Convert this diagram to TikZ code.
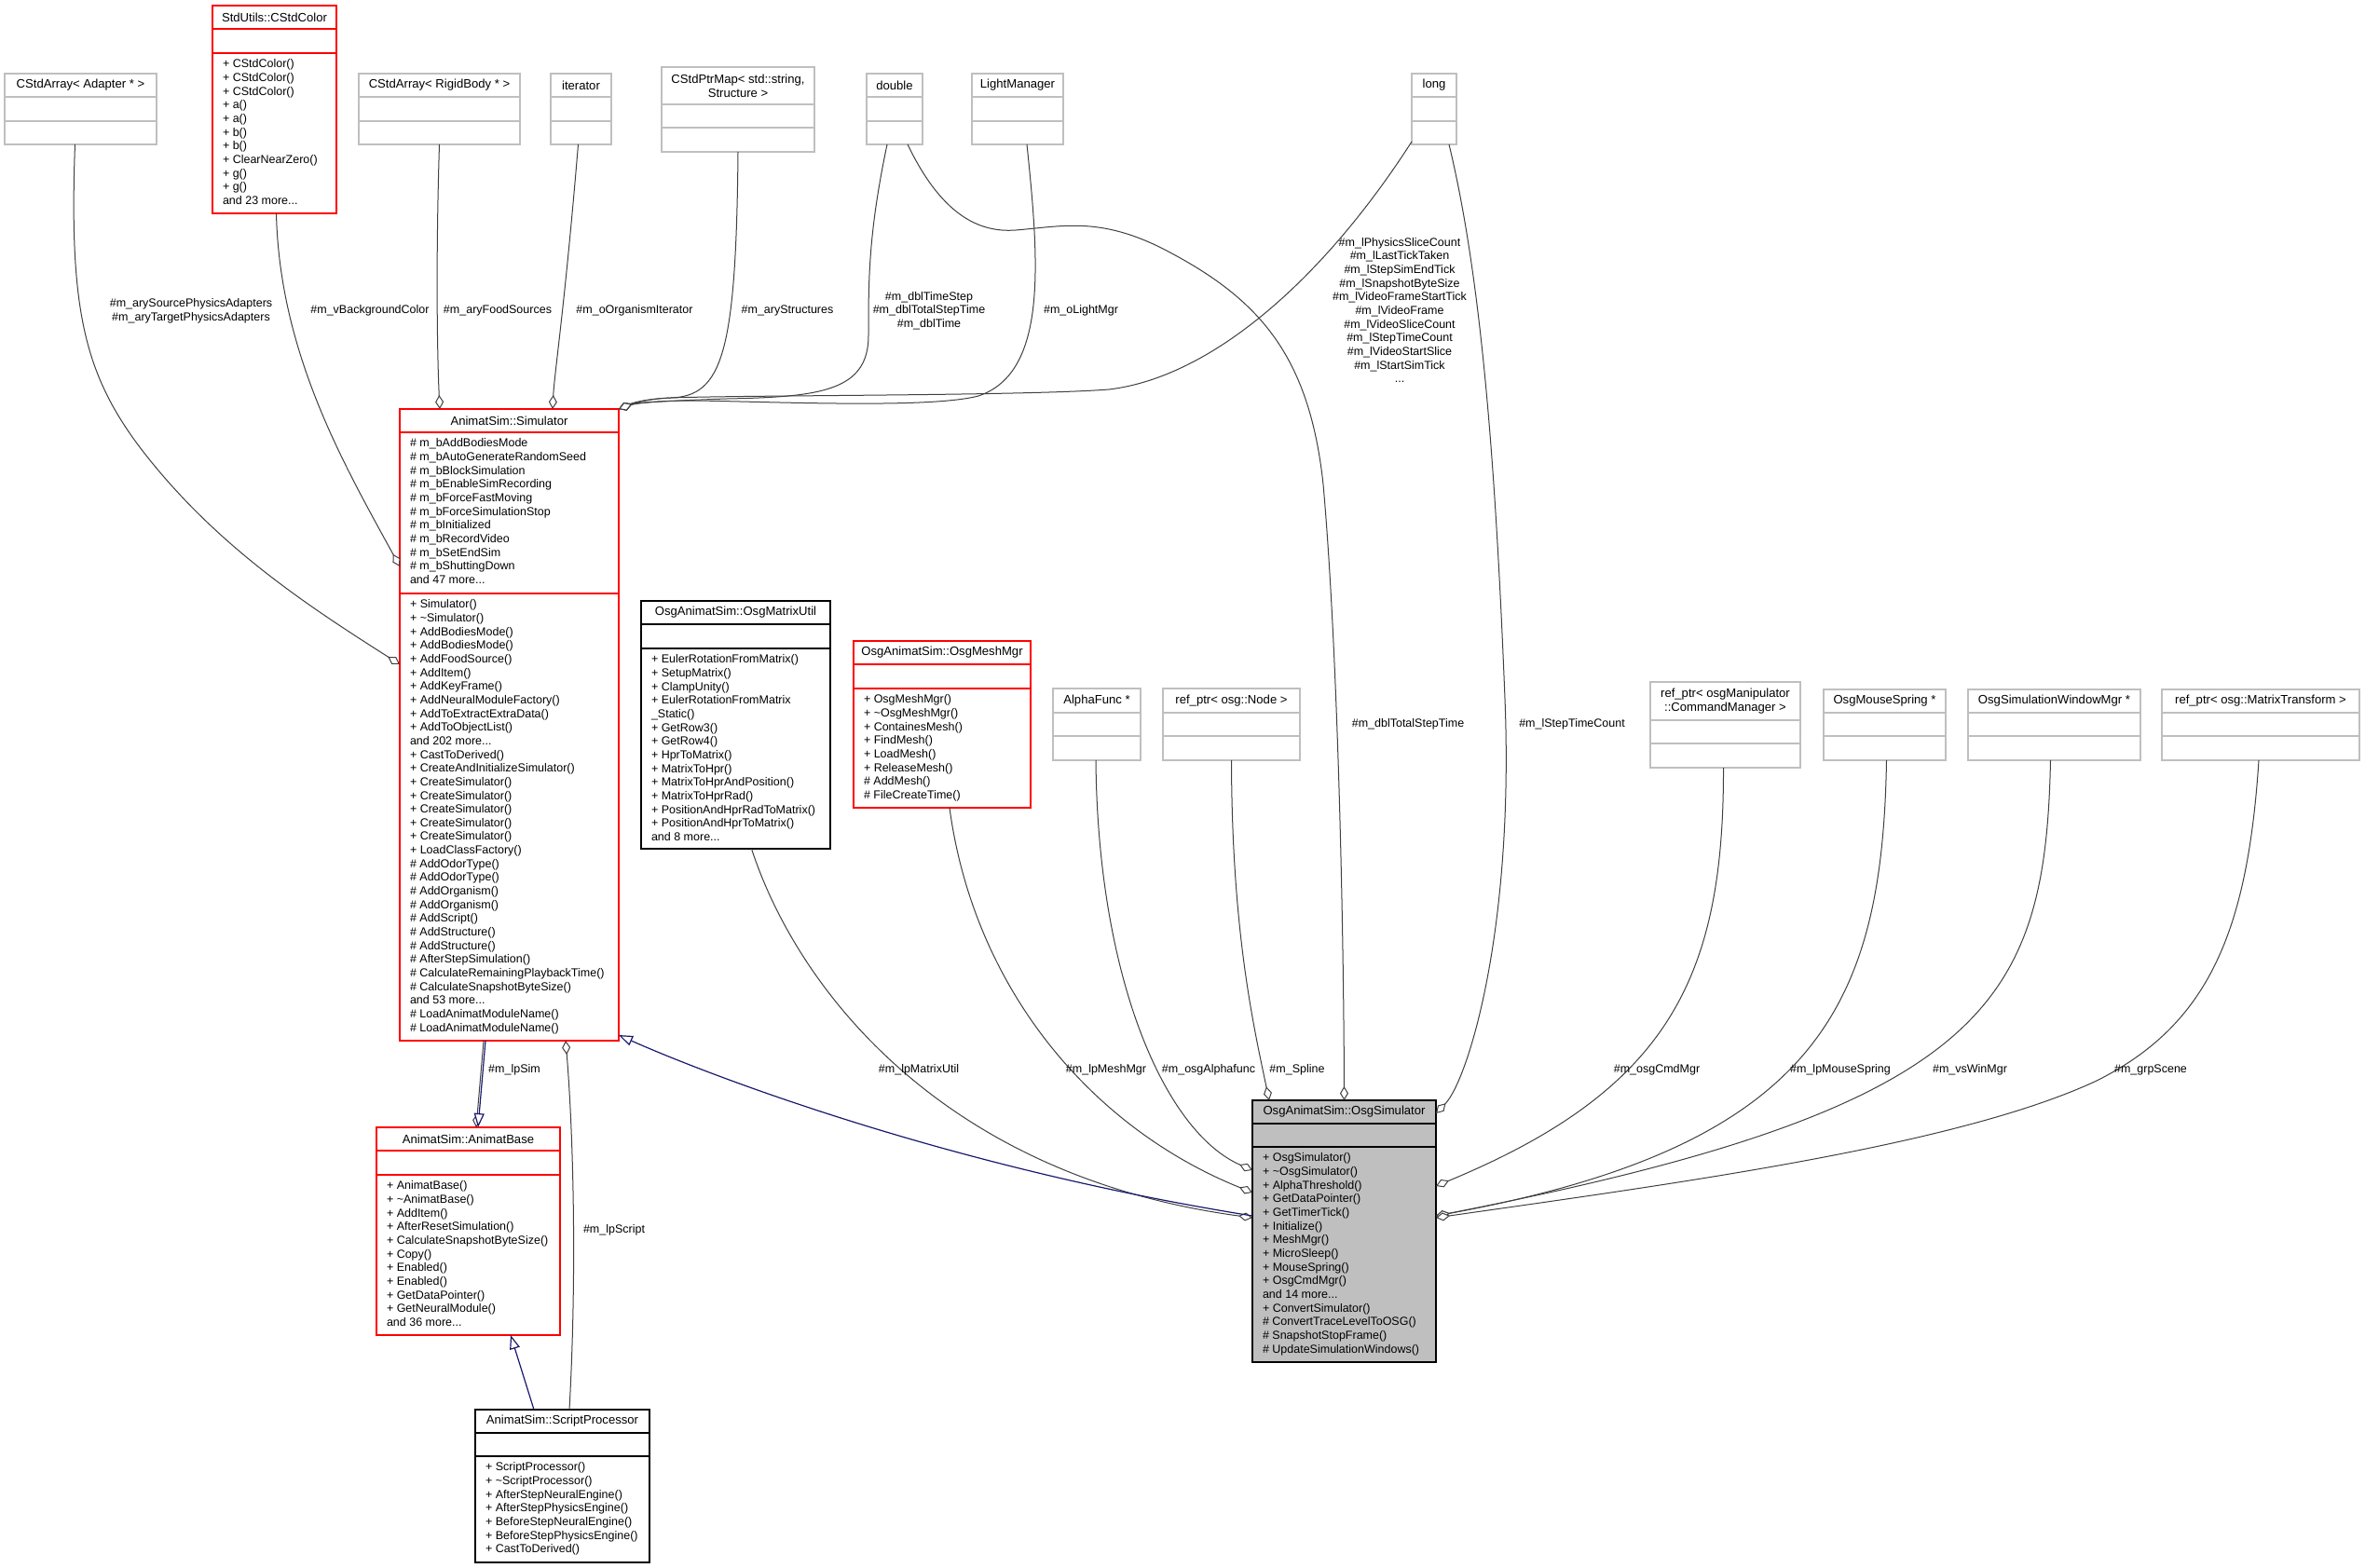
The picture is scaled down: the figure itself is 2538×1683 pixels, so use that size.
\documentclass[tikz,border=0pt]{standalone}
\usepackage{fontspec}
\setmainfont{Liberation Sans}
\usetikzlibrary{arrows.meta,calc}
\definecolor{bgray}{HTML}{BFBFBF}
\definecolor{bred}{HTML}{FF0000}
\definecolor{egray}{HTML}{404040}
\definecolor{inhblue}{HTML}{191970}
\definecolor{simfill}{HTML}{BFBFBF}
% #1 name, #2 border colour, #3 fill, #4 x1, #5 y1, #6 x2, #7 header bottom, #8 attr bottom, #9 y2
\newcommand{\umlbox}[9]{%
  \node[draw=#2, fill=#3, line width=1.3pt, inner sep=0pt, outer sep=0pt, anchor=north west,
        minimum width={(#6)-(#4)}, minimum height={(#9)-(#5)}] (#1) at (#4,#5) {};
  \draw[#2, line width=1.3pt] (#4,#7) -- (#6,#7) (#4,#8) -- (#6,#8);
}
\tikzset{
  txt/.style={font=\fontsize{12.5}{14.65}\selectfont, inner sep=0pt, outer sep=0pt, text=black},
  hdr/.style={txt, font=\fontsize{13.1}{14.65}\selectfont, align=center},
  mem/.style={txt, align=left, anchor=north west},
  elabel/.style={txt, align=center},
  agg/.style={egray, line width=1pt, -{Diamond[open, fill=white, length=15pt, width=9pt]}},
  inh/.style={inhblue, line width=1.2pt, -{Triangle[open, fill=white, length=15pt, width=11pt]}},
}
\begin{document}
\begin{tikzpicture}[x=1pt, y=-1pt]
\fill[white] (0,0) rectangle (2538,1683);
\useasboundingbox (0,0) rectangle (2538,1683);

% ---------------- top row ----------------
\umlbox{adapter}{bgray}{white}{5}{79}{168}{104}{130}{155}
\node[hdr] (adapter-t) at (86.5,91.5) {CStdArray< Adapter * >};

\umlbox{stdcolor}{bred}{white}{228}{6}{361}{31}{57}{229}
\node[hdr] (stdcolor-t) at (294.5,18.5) {StdUtils::CStdColor};
\node[mem] (stdcolor-m) at (239,62.65) {\strut + CStdColor()\\+ CStdColor()\\+ CStdColor()\\+ a()\\+ a()\\+ b()\\+ b()\\+ ClearNearZero()\\+ g()\\+ g()\\and 23 more...};

\umlbox{rigid}{bgray}{white}{385}{79}{558}{104}{130}{155}
\node[hdr] (rigid-t) at (471.5,91.5) {CStdArray< RigidBody * >};

\umlbox{iter}{bgray}{white}{591}{79}{656}{104}{130}{155}
\node[hdr] (iter-t) at (623.5,91.5) {iterator};

\umlbox{ptrmap}{bgray}{white}{710}{72}{874}{112}{137}{163}
\node[hdr] (ptrmap-t) at (792,92) {CStdPtrMap< std::string,\\Structure >};

\umlbox{dbl}{bgray}{white}{930}{79}{990}{104}{130}{155}
\node[hdr] (dbl-t) at (960,91.5) {double};

\umlbox{light}{bgray}{white}{1043}{79}{1141}{104}{130}{155}
\node[hdr] (light-t) at (1092,91.5) {LightManager};

\umlbox{lng}{bgray}{white}{1515}{79}{1563}{104}{130}{155}
\node[hdr] (lng-t) at (1539,91.5) {long};

% ---------------- Simulator ----------------
\umlbox{sim}{bred}{white}{429}{439}{664}{464}{637}{1117}
\node[hdr] (sim-t) at (546.5,451.5) {AnimatSim::Simulator};
\node[mem] (sim-a) at (440,469.65) {\strut\# m\_bAddBodiesMode\\\# m\_bAutoGenerateRandomSeed\\\# m\_bBlockSimulation\\\# m\_bEnableSimRecording\\\# m\_bForceFastMoving\\\# m\_bForceSimulationStop\\\# m\_bInitialized\\\# m\_bRecordVideo\\\# m\_bSetEndSim\\\# m\_bShuttingDown\\and 47 more...};
\node[mem] (sim-m) at (440,642.65) {\strut + Simulator()\\+ \textasciitilde Simulator()\\+ AddBodiesMode()\\+ AddBodiesMode()\\+ AddFoodSource()\\+ AddItem()\\+ AddKeyFrame()\\+ AddNeuralModuleFactory()\\+ AddToExtractExtraData()\\+ AddToObjectList()\\and 202 more...\\+ CastToDerived()\\+ CreateAndInitializeSimulator()\\+ CreateSimulator()\\+ CreateSimulator()\\+ CreateSimulator()\\+ CreateSimulator()\\+ CreateSimulator()\\+ LoadClassFactory()\\\# AddOdorType()\\\# AddOdorType()\\\# AddOrganism()\\\# AddOrganism()\\\# AddScript()\\\# AddStructure()\\\# AddStructure()\\\# AfterStepSimulation()\\\# CalculateRemainingPlaybackTime()\\\# CalculateSnapshotByteSize()\\and 53 more...\\\# LoadAnimatModuleName()\\\# LoadAnimatModuleName()};

% ---------------- middle row ----------------
\umlbox{mutil}{black}{white}{688}{645}{891}{670}{696}{911}
\node[hdr] (mutil-t) at (789.5,657.5) {OsgAnimatSim::OsgMatrixUtil};
\node[mem] (mutil-m) at (699,701.65) {\strut + EulerRotationFromMatrix()\\+ SetupMatrix()\\+ ClampUnity()\\+ EulerRotationFromMatrix\\\_Static()\\+ GetRow3()\\+ GetRow4()\\+ HprToMatrix()\\+ MatrixToHpr()\\+ MatrixToHprAndPosition()\\+ MatrixToHprRad()\\+ PositionAndHprRadToMatrix()\\+ PositionAndHprToMatrix()\\and 8 more...};

\umlbox{mesh}{bred}{white}{916}{688}{1106}{713}{739}{867}
\node[hdr] (mesh-t) at (1011,700.5) {OsgAnimatSim::OsgMeshMgr};
\node[mem] (mesh-m) at (927,744.65) {\strut + OsgMeshMgr()\\+ \textasciitilde OsgMeshMgr()\\+ ContainesMesh()\\+ FindMesh()\\+ LoadMesh()\\+ ReleaseMesh()\\\# AddMesh()\\\# FileCreateTime()};

\umlbox{alpha}{bgray}{white}{1130}{739}{1224}{765}{790}{816}
\node[hdr] (alpha-t) at (1177,752) {AlphaFunc *};

\umlbox{onode}{bgray}{white}{1248}{739}{1395}{765}{790}{816}
\node[hdr] (onode-t) at (1321.5,752) {ref\_ptr< osg::Node >};

\umlbox{cmd}{bgray}{white}{1771}{732}{1932}{773}{798}{824}
\node[hdr] (cmd-t) at (1851.5,752.5) {ref\_ptr< osgManipulator\\::CommandManager >};

\umlbox{spring}{bgray}{white}{1957}{740}{2088}{765}{790}{816}
\node[hdr] (spring-t) at (2022.5,752.5) {OsgMouseSpring *};

\umlbox{winmgr}{bgray}{white}{2112}{740}{2297}{765}{790}{816}
\node[hdr] (winmgr-t) at (2204.5,752.5) {OsgSimulationWindowMgr *};

\umlbox{mtrans}{bgray}{white}{2320}{740}{2532}{765}{790}{816}
\node[hdr] (mtrans-t) at (2426,752.5) {ref\_ptr< osg::MatrixTransform >};

% ---------------- OsgSimulator ----------------
\umlbox{osgsim}{black}{simfill}{1344}{1181}{1541}{1206}{1231}{1462}
\node[hdr] (osgsim-t) at (1442.5,1193.5) {OsgAnimatSim::OsgSimulator};
\node[mem] (osgsim-m) at (1355,1236.65) {\strut + OsgSimulator()\\+ \textasciitilde OsgSimulator()\\+ AlphaThreshold()\\+ GetDataPointer()\\+ GetTimerTick()\\+ Initialize()\\+ MeshMgr()\\+ MicroSleep()\\+ MouseSpring()\\+ OsgCmdMgr()\\and 14 more...\\+ ConvertSimulator()\\\# ConvertTraceLevelToOSG()\\\# SnapshotStopFrame()\\\# UpdateSimulationWindows()};

% ---------------- AnimatBase / ScriptProcessor ----------------
\umlbox{base}{bred}{white}{404}{1210}{601}{1235}{1261}{1433}
\node[hdr] (base-t) at (502.5,1222.5) {AnimatSim::AnimatBase};
\node[mem] (base-m) at (415,1266.65) {\strut + AnimatBase()\\+ \textasciitilde AnimatBase()\\+ AddItem()\\+ AfterResetSimulation()\\+ CalculateSnapshotByteSize()\\+ Copy()\\+ Enabled()\\+ Enabled()\\+ GetDataPointer()\\+ GetNeuralModule()\\and 36 more...};

\umlbox{script}{black}{white}{510}{1513}{697}{1538}{1563}{1677}
\node[hdr] (script-t) at (603.5,1525.5) {AnimatSim::ScriptProcessor};
\node[mem] (script-m) at (521,1568.65) {\strut + ScriptProcessor()\\+ \textasciitilde ScriptProcessor()\\+ AfterStepNeuralEngine()\\+ AfterStepPhysicsEngine()\\+ BeforeStepNeuralEngine()\\+ BeforeStepPhysicsEngine()\\+ CastToDerived()};

% ---------------- connectors into Simulator ----------------
\draw[agg] ($(adapter.south)+(-6,0)$) .. controls (74,330) and (90,400) .. (150,480)
   .. controls (230,585) and (330,650) .. ($(sim.north west)+(0,274)$);
\draw[agg] ($(stdcolor.south)+(2,0)$) .. controls (300,380) and (370,500) .. ($(sim.north west)+(0,169)$);
\draw[agg] (rigid.south) .. controls (467,300) and (470,400) .. ($(sim.north west)+(43,0)$);
\draw[agg] ($(iter.south)+(-3,0)$) .. controls (606,330) and (595,400) .. ($(sim.north west)+(164,0)$);
\draw[agg] (ptrmap.south) .. controls (790,380) and (775,425) .. (720,427)
   .. controls (695,428) and (680,432) .. (sim.north east);
\draw[agg] ($(dbl.south)+(-8,0)$) .. controls (932,250) and (932,300) .. (932,360)
   .. controls (932,420) and (880,426) .. (780,428) .. controls (720,430) and (685,432) .. (sim.north east);
\draw[agg] ($(light.south)+(10,0)$) .. controls (1115,280) and (1125,400) .. (1050,425)
   .. controls (1000,438) and (850,432) .. (750,430) .. controls (700,430) and (680,433) .. (sim.north east);
\draw[agg] ($(lng.south west)+(0,-3)$) .. controls (1420,300) and (1300,405) .. (1190,418)
   .. controls (1100,425) and (800,424) .. (720,427) .. controls (695,428) and (680,433) .. (sim.north east);

% ---------------- connectors into OsgSimulator ----------------
\draw[agg] ($(dbl.south)+(14,0)$) .. controls (1010,230) and (1050,250) .. (1090,247)
   .. controls (1140,243) and (1180,232) .. (1250,268) .. controls (1350,320) and (1405,380) .. (1420,520)
   .. controls (1436,700) and (1442,1000) .. (osgsim.north);
\draw[agg] ($(lng.south)+(16,0)$) .. controls (1590,300) and (1605,500) .. (1615,750)
   .. controls (1625,1000) and (1575,1160) .. ($(osgsim.north east)+(0,14)$);
\draw[agg] ($(mutil.south)+(17,0)$) .. controls (855,1060) and (1010,1262) .. ($(osgsim.north west)+(0,126)$);
\draw[agg] ($(mesh.south)+(8,0)$) .. controls (1045,1060) and (1170,1210) .. ($(osgsim.north west)+(0,99)$);
\draw[agg] ($(alpha.south)+(-1,0)$) .. controls (1178,1050) and (1250,1215) .. ($(osgsim.north west)+(0,75)$);
\draw[agg] (onode.south) .. controls (1322,1000) and (1345,1100) .. ($(osgsim.north west)+(18,0)$);
\draw[agg] ($(cmd.south)+(-2,0)$) .. controls (1850,1050) and (1790,1170) .. ($(osgsim.north east)+(0,92)$);
\draw[agg] ($(spring.south)+(2,0)$) .. controls (2020,1080) and (1950,1230) .. ($(osgsim.north east)+(0,124)$);
\draw[agg] ($(winmgr.south)+(-4,0)$) .. controls (2195,1080) and (2130,1190) .. ($(osgsim.north east)+(0,124)$);
\draw[agg] ($(mtrans.south)+(-2,0)$) .. controls (2412,1000) and (2370,1100) .. (2250,1160)
   .. controls (2100,1230) and (1800,1270) .. ($(osgsim.north east)+(0,126)$);

% ---------------- inheritance and lower connectors ----------------
\draw[inh] ($(osgsim.north west)+(0,124)$) .. controls (1000,1250) and (740,1145) .. ($(sim.south east)+(0,-6)$);
\draw[agg] ($(sim.south west)+(90,0)$) -- ($(base.north west)+(107,0)$);
\draw[inh] ($(sim.south west)+(92,0)$) -- ($(base.north west)+(109,0)$);
\draw[inh] ($(script.north west)+(63,0)$) -- ($(base.south west)+(144,0)$);
\draw[agg] ($(script.north west)+(101,0)$) .. controls (620,1350) and (614,1200) .. ($(sim.south west)+(178,0)$);

% ---------------- connector labels ----------------
\node[elabel] (l1) at (205,333.5) {\#m\_arySourcePhysicsAdapters\\\#m\_aryTargetPhysicsAdapters};
\node[elabel] (l2) at (397,333) {\#m\_vBackgroundColor};
\node[elabel] (l3) at (534,333) {\#m\_aryFoodSources};
\node[elabel] (l4) at (681,333) {\#m\_oOrganismIterator};
\node[elabel] (l5) at (845,333) {\#m\_aryStructures};
\node[elabel] (l6) at (997,333.5) {\#m\_dblTimeStep\\\#m\_dblTotalStepTime\\\#m\_dblTime};
\node[elabel] (l7) at (1160,333) {\#m\_oLightMgr};
\node[elabel] (l8) at (1502,333) {\#m\_lPhysicsSliceCount\\\#m\_lLastTickTaken\\\#m\_lStepSimEndTick\\\#m\_lSnapshotByteSize\\\#m\_lVideoFrameStartTick\\\#m\_lVideoFrame\\\#m\_lVideoSliceCount\\\#m\_lStepTimeCount\\\#m\_lVideoStartSlice\\\#m\_lStartSimTick\\...};
\node[elabel] (l9) at (1511,777) {\#m\_dblTotalStepTime};
\node[elabel] (l10) at (1687,777) {\#m\_lStepTimeCount};
\node[elabel] (l11) at (552,1148) {\#m\_lpSim};
\node[elabel] (l12) at (659,1320) {\#m\_lpScript};
\node[elabel] (l13) at (986,1148) {\#m\_lpMatrixUtil};
\node[elabel] (l14) at (1187,1148) {\#m\_lpMeshMgr};
\node[elabel] (l15) at (1297,1148) {\#m\_osgAlphafunc};
\node[elabel] (l16) at (1392,1148) {\#m\_Spline};
\node[elabel] (l17) at (1778,1148) {\#m\_osgCmdMgr};
\node[elabel] (l18) at (1975,1148) {\#m\_lpMouseSpring};
\node[elabel] (l19) at (2114,1148) {\#m\_vsWinMgr};
\node[elabel] (l20) at (2308,1148) {\#m\_grpScene};
\end{tikzpicture}
\end{document}
